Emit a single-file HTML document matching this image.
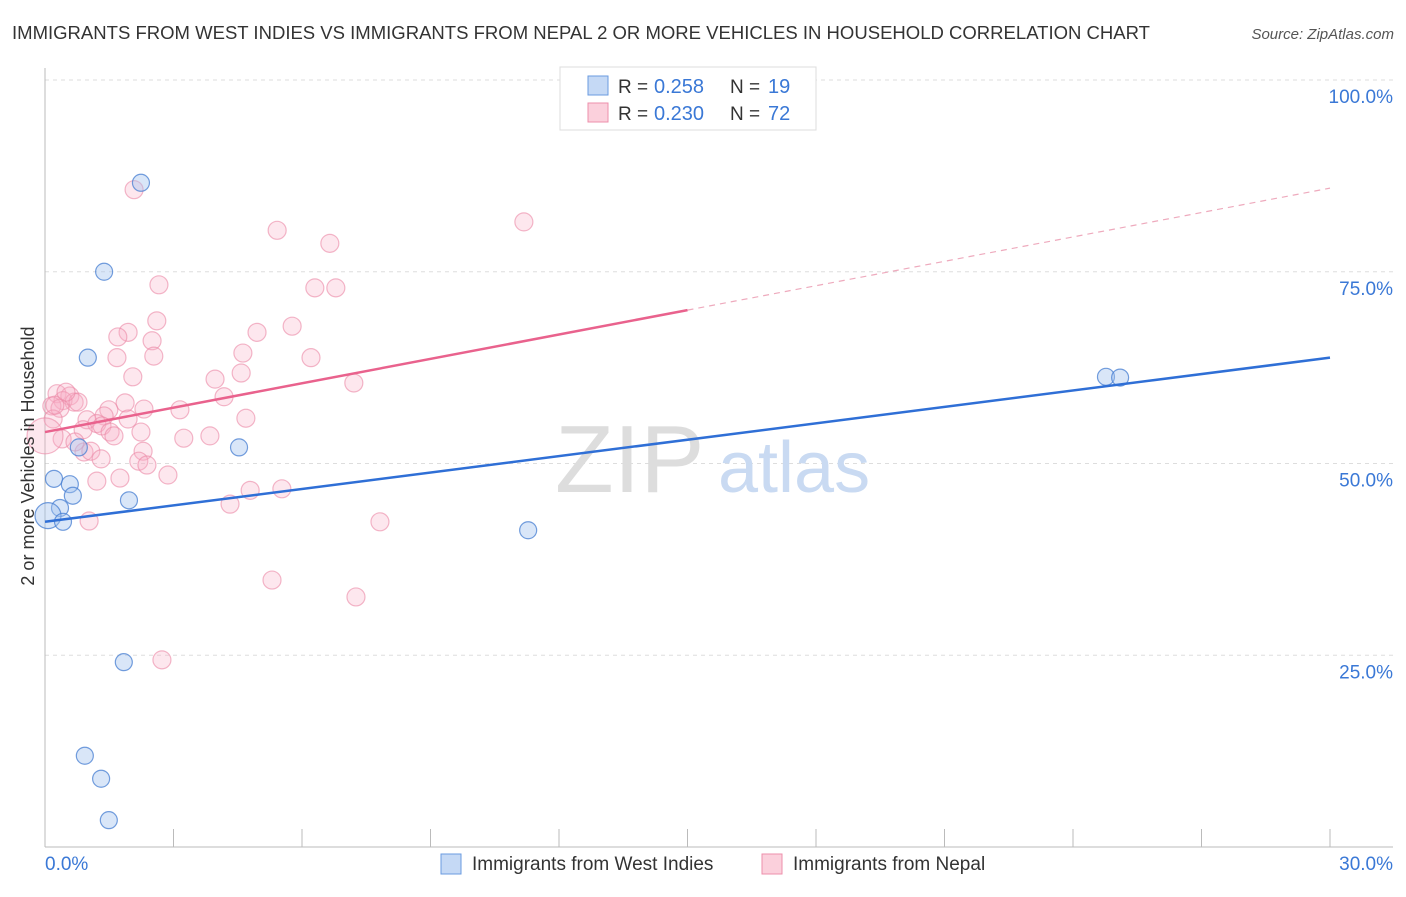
<!DOCTYPE html>
<html><head><meta charset="utf-8"><style>
body{margin:0;background:#fff;font-family:"Liberation Sans",sans-serif;}
svg text{font-family:"Liberation Sans",sans-serif;}
</style></head><body>
<svg width="1406" height="892" viewBox="0 0 1406 892" xmlns="http://www.w3.org/2000/svg">
<text x="12" y="39" font-size="18" fill="#333" textLength="1138" lengthAdjust="spacingAndGlyphs">IMMIGRANTS FROM WEST INDIES VS IMMIGRANTS FROM NEPAL 2 OR MORE VEHICLES IN HOUSEHOLD CORRELATION CHART</text>
<text x="1394" y="39" font-size="15" fill="#555" text-anchor="end" font-style="italic">Source: ZipAtlas.com</text>
<g id="grid"></g>
<text x="555" y="492" font-size="96" fill="#ddd" font-family="Liberation Serif,serif">ZIP</text>
<text x="718" y="492" font-size="72" fill="#c9daf2">atlas</text>
<g id="marks"></g>
<text x="34" y="456" font-size="18" fill="#333" text-anchor="middle" transform="rotate(-90 34 456)">2 or more Vehicles in Household</text>
<text x="45" y="870" font-size="19" fill="#3a78d6">0.0%</text>
<text x="1393" y="870" font-size="19" fill="#3a78d6" text-anchor="end">30.0%</text>
<g>
<rect x="560" y="67" width="256" height="63" fill="#fff" stroke="#ddd"/>
<rect x="588" y="76" width="20" height="19" fill="#c5d9f5" stroke="#6a9be0"/>
<rect x="588" y="103" width="20" height="19" fill="#fbd0dc" stroke="#ee8fab"/>
<text x="618" y="93" font-size="19" fill="#333">R =</text>
<text x="654" y="93" font-size="20" fill="#3a78d6">0.258</text>
<text x="730" y="93" font-size="19" fill="#333">N =</text>
<text x="768" y="93" font-size="20" fill="#3a78d6">19</text>
<text x="618" y="120" font-size="19" fill="#333">R =</text>
<text x="654" y="120" font-size="20" fill="#3a78d6">0.230</text>
<text x="730" y="120" font-size="19" fill="#333">N =</text>
<text x="768" y="120" font-size="20" fill="#3a78d6">72</text>
</g>
<g>
<rect x="441" y="854" width="20" height="20" fill="#c5d9f5" stroke="#6a9be0"/>
<text x="472" y="870" font-size="19" fill="#333">Immigrants from West Indies</text>
<rect x="762" y="854" width="20" height="20" fill="#fbd0dc" stroke="#ee8fab"/>
<text x="793" y="870" font-size="19" fill="#333">Immigrants from Nepal</text>
</g>
</svg>
<script>
const blueX=[2.24,1.38,1.00,0.21,0.58,0.65,0.79,1.96,4.53,0.35,0.07,0.42,11.28,1.84,0.93,1.31,1.49,24.77,25.10];
const blueY=[86.6,75.0,63.8,48.0,47.3,45.8,52.1,45.2,52.1,44.2,43.2,42.4,41.3,24.1,11.9,8.9,3.5,61.3,61.2];
const pinkX=[2.08,5.42,6.65,11.18,2.66,6.30,6.79,2.61,5.77,1.94,4.95,1.70,2.50,2.54,4.62,6.21,1.68,2.05,3.97,4.58,7.21,4.18,0.28,0.58,0.42,0.68,0.77,0.16,0.35,3.15,2.31,1.87,1.49,1.38,0.98,1.21,1.94,4.69,0.19,0.89,1.33,1.52,2.24,1.61,0.40,0.00,3.24,3.85,0.91,1.07,2.29,1.31,2.19,2.38,2.87,1.75,1.21,4.79,5.53,4.32,1.03,7.82,5.30,7.26,2.73,0.23,0.49,0.70];
const pinkY=[85.7,80.4,78.7,81.5,73.3,72.9,72.9,68.6,67.9,67.1,67.1,66.5,66.0,64.0,64.4,63.8,63.8,61.3,61.0,61.8,60.5,58.7,59.1,58.8,58.2,58.0,58.0,57.5,57.2,57.0,57.1,57.9,57.0,56.2,55.7,55.2,55.8,55.9,55.8,54.4,54.9,54.1,54.1,53.6,53.2,53.6,53.3,53.6,51.5,51.6,51.6,50.6,50.3,49.8,48.5,48.1,47.7,46.5,46.7,44.7,42.5,42.4,34.8,32.6,24.4,57.6,59.3,52.8];
const blueLine=[42.4,63.8];
const pinkLine=[54.1,85.9];
const pinkSolidEnd=15;
const yTicks=[25,50,75,100];
const xTicks=[0,3,6,9,12,15,18,21,24,27,30];
const NS="http://www.w3.org/2000/svg";
const sx=v=>45+v/30*1285;
const sy=v=>847-v/100*767;
function mk(tag,attrs,parent){const e=document.createElementNS(NS,tag);for(const k in attrs)e.setAttribute(k,attrs[k]);parent.appendChild(e);return e;}
const grid=document.getElementById('grid'),marks=document.getElementById('marks');
yTicks.forEach(t=>{
 const l=mk('line',{x1:45,x2:1393,y1:sy(t),y2:sy(t),stroke:'#ddd','stroke-dasharray':'4,4'},grid);
 
 
 const tx=mk('text',{x:1393,y:sy(t)+23,'font-size':19,fill:'#3a78d6','text-anchor':'end'},grid);
 tx.textContent=t.toFixed(1)+'%';
 
 
});
const ax=mk('line',{x1:45,x2:1393,y1:847,y2:847,stroke:'#bbb'},grid);


const ay=mk('line',{x1:45,x2:45,y1:68,y2:847,stroke:'#bbb'},grid);


xTicks.forEach(t=>{
 const l=mk('line',{x1:sx(t),x2:sx(t),y1:829,y2:847,stroke:'#bbb'},grid);
 
 
});
pinkX.forEach((x,i)=>{
 const c=mk('circle',{cx:sx(x),cy:sy(pinkY[i]),r:x===0?18:9,fill:'rgba(248,175,198,0.3)',stroke:'rgba(235,135,165,0.6)','stroke-width':1.2},marks);
 
 
});
blueX.forEach((x,i)=>{
 const c=mk('circle',{cx:sx(x),cy:sy(blueY[i]),r:x<0.1?13:8.5,fill:'rgba(160,192,238,0.4)',stroke:'rgba(70,125,210,0.75)','stroke-width':1.2},marks);
 
 
});
const bl=mk('line',{x1:sx(0),y1:sy(blueLine[0]),x2:sx(30),y2:sy(blueLine[1]),stroke:'#2f6fd6','stroke-width':2.5},marks);


const pm=pinkLine[0]+(pinkLine[1]-pinkLine[0])*pinkSolidEnd/30;
const pl=mk('line',{x1:sx(0),y1:sy(pinkLine[0]),x2:sx(pinkSolidEnd),y2:sy(pm),stroke:'#e9628d','stroke-width':2.5},marks);


const pd=mk('line',{x1:sx(pinkSolidEnd),y1:sy(pm),x2:sx(30),y2:sy(pinkLine[1]),stroke:'#eeaabd','stroke-width':1.2,'stroke-dasharray':'6,5'},marks);


</script>
</body></html>
